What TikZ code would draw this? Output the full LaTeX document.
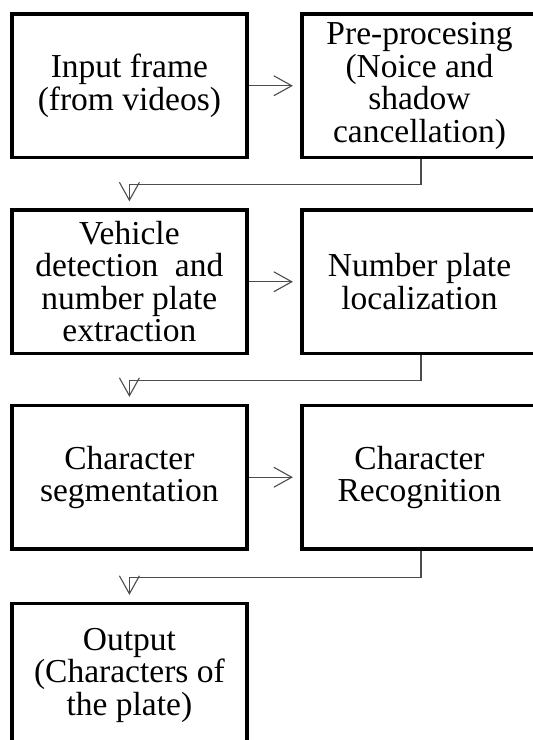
\documentclass[tikz,border=0pt]{standalone}
\usepackage{fontspec}
\setmainfont{Liberation Serif}
\usetikzlibrary{arrows.meta}
\begin{document}
\begin{tikzpicture}[x=1pt,y=-1pt,
  stage/.style={draw=black, line width=3.2pt, minimum width=235pt,
    minimum height=143.5pt, inner sep=0pt, align=center,
    font=\fontsize{33.5}{32.5}\selectfont},
  link/.style={draw=black!70, line width=1.1pt,
    -{Straight Barb[length=18pt,width=20pt,line width=1.1pt]}}
]
% page frame
\clip (0,0) rectangle (533,740);

% processing stages, two per row
\node[stage] (frame)   at (129.4, 85.75)  {Input frame\\(from videos)};
\node[stage] (prep)    at (419.5, 85.75)  {Pre-procesing\\(Noice and\\shadow\\cancellation)};
\node[stage] (detect)  at (129.4, 281.75) {Vehicle\\detection\ \ and\\number plate\\extraction};
\node[stage] (locate)  at (419.5, 281.75) {Number plate\\localization};
\node[stage] (segment) at (129.4, 477.25) {Character\\segmentation};
\node[stage] (recog)   at (419.5, 477.25) {Character\\Recognition};
\node[stage] (output)  at (129.4, 675.25) {Output\\(Characters of\\the plate)};

% arrows within a row
\draw[link, shorten >=7.5pt] (frame.east)   -- (prep.west);
\draw[link, shorten >=7.5pt] (detect.east)  -- (locate.west);
\draw[link, shorten >=7.5pt] (segment.east) -- (recog.west);

% arrows from the end of a row to the start of the next one
\draw[link, shorten >=7pt] ([xshift=1.5pt]prep.south)   -- ++(0,25) -| (detect.north);
\draw[link, shorten >=7pt] ([xshift=1.5pt]locate.south) -- ++(0,25.5) -| (segment.north);
\draw[link, shorten >=7pt] ([xshift=1.5pt]recog.south)  -- ++(0,26.5) -| (output.north);
\end{tikzpicture}
\end{document}
